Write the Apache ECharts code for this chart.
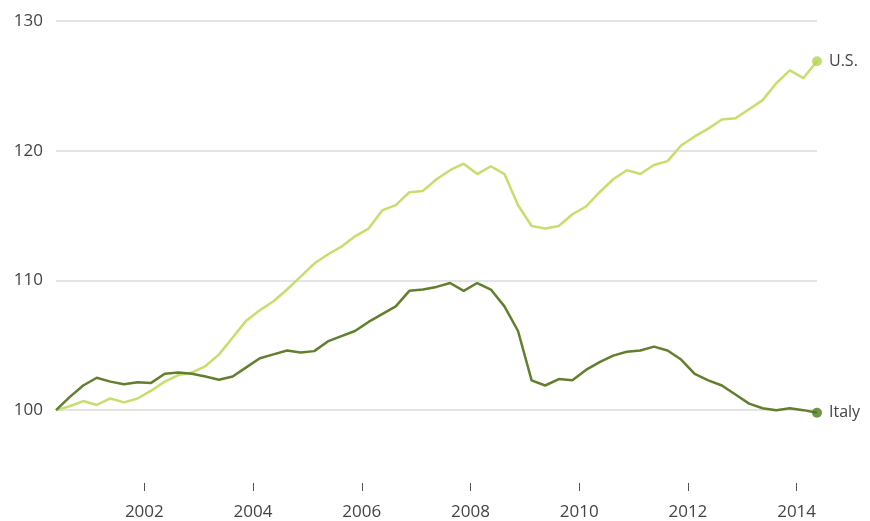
<!DOCTYPE html>
<html>
<head>
<meta charset="utf-8">
<script src="https://cdn.jsdelivr.net/npm/echarts@6/dist/echarts.min.js"></script>
<style>
html,body{margin:0;padding:0;background:#fff;}
#chart{width:870px;height:521px;}
</style>
</head>
<body>
<div id="chart"></div>
<script>
// Quarterly periods 2000 Q2 .. 2014 Q2 (plotted at mid-quarter)
const quarters = [
  '2000Q2','2000Q3','2000Q4',
  '2001Q1','2001Q2','2001Q3','2001Q4',
  '2002Q1','2002Q2','2002Q3','2002Q4',
  '2003Q1','2003Q2','2003Q3','2003Q4',
  '2004Q1','2004Q2','2004Q3','2004Q4',
  '2005Q1','2005Q2','2005Q3','2005Q4',
  '2006Q1','2006Q2','2006Q3','2006Q4',
  '2007Q1','2007Q2','2007Q3','2007Q4',
  '2008Q1','2008Q2','2008Q3','2008Q4',
  '2009Q1','2009Q2','2009Q3','2009Q4',
  '2010Q1','2010Q2','2010Q3','2010Q4',
  '2011Q1','2011Q2','2011Q3','2011Q4',
  '2012Q1','2012Q2','2012Q3','2012Q4',
  '2013Q1','2013Q2','2013Q3','2013Q4',
  '2014Q1','2014Q2'
];
const usValues = [
  100.0,100.3,100.7,
  100.4,100.9,100.6,100.9,
  101.5,102.2,102.7,102.9,
  103.4,104.3,105.6,106.9,
  107.7,108.4,109.3,110.3,
  111.3,112.0,112.6,113.4,
  114.0,115.4,115.8,116.8,
  116.9,117.8,118.5,119.0,
  118.2,118.8,118.2,115.8,
  114.2,114.0,114.2,115.1,
  115.7,116.8,117.8,118.5,
  118.2,118.9,119.2,120.4,
  121.1,121.7,122.4,122.5,
  123.2,123.9,125.2,126.2,
  125.6,126.9
];
const italyValues = [
  100.0,101.0,101.9,
  102.5,102.2,102.0,102.15,
  102.1,102.8,102.9,102.8,
  102.6,102.35,102.6,103.3,
  104.0,104.3,104.6,104.45,
  104.55,105.3,105.7,106.1,
  106.8,107.4,108.0,109.2,
  109.3,109.5,109.8,109.2,
  109.8,109.3,108.0,106.1,
  102.3,101.9,102.4,102.3,
  103.1,103.7,104.2,104.5,
  104.6,104.9,104.6,103.9,
  102.8,102.3,101.9,101.2,
  100.5,100.15,100.0,100.15,
  100.0,99.8
];
const yTickValues = [100, 110, 120, 130];
const xTickYears = [2002, 2004, 2006, 2008, 2010, 2012, 2014];
const seriesNames = ['U.S.', 'Italy'];

function quarterToYear(q) {
  const y = parseInt(q.slice(0, 4), 10);
  const n = parseInt(q.slice(5), 10);
  return y + (n - 1) / 4 + 0.125;
}
const xs = quarters.map(quarterToYear);
const toPairs = vals => vals.map((v, i) => [xs[i], v]);

const usColor = '#c6df6c';
const itColor = '#617f2c';
const usDot = '#b3d34f';
const itDot = '#4f7a1c';
const fontFamily = '"Open Sans", "Noto Sans", sans-serif';

const chart = echarts.init(document.getElementById('chart'));
chart.setOption({
  animation: false,
  backgroundColor: '#ffffff',
  grid: { left: 56, right: 53, top: 21, bottom: 521 - 477 },
  xAxis: {
    type: 'value',
    min: xs[0],
    max: xs[xs.length - 1],
    offset: 8,
    axisLine: { show: false },
    splitLine: { show: false },
    axisTick: { show: true, customValues: xTickYears, length: 8, lineStyle: { color: '#555', width: 1 } },
    axisLabel: { customValues: xTickYears, margin: 21, color: '#444', fontSize: 17, fontFamily: fontFamily,
      formatter: v => String(Math.round(v)) }
  },
  yAxis: {
    type: 'value',
    min: 95,
    max: 130,
    axisLine: { show: false },
    axisTick: { show: false, customValues: yTickValues },
    axisLabel: { customValues: yTickValues, margin: 13, color: '#444', fontSize: 17, fontFamily: fontFamily },
    splitLine: { show: true, lineStyle: { color: '#e4e4e4', width: 2 } }
  },
  series: [
    {
      name: seriesNames[0], type: 'line', data: toPairs(usValues),
      showSymbol: false, lineStyle: { color: usColor, width: 2.5 },
      itemStyle: { color: usColor }, z: 2,
      endLabel: { show: true, formatter: seriesNames[0], distance: 12, color: '#444', fontSize: 16, fontFamily: fontFamily }
    },
    {
      name: seriesNames[1], type: 'line', data: toPairs(italyValues),
      showSymbol: false, lineStyle: { color: itColor, width: 2.5 },
      itemStyle: { color: itColor }, z: 3,
      endLabel: { show: true, formatter: seriesNames[1], distance: 12, color: '#444', fontSize: 16, fontFamily: fontFamily }
    },
    {
      type: 'scatter', symbolSize: 10, z: 4,
      data: [
        { value: [xs[xs.length - 1], usValues[usValues.length - 1]], itemStyle: { color: usDot } },
        { value: [xs[xs.length - 1], italyValues[italyValues.length - 1]], itemStyle: { color: itDot } }
      ]
    }
  ]
});
</script>
</body>
</html>
